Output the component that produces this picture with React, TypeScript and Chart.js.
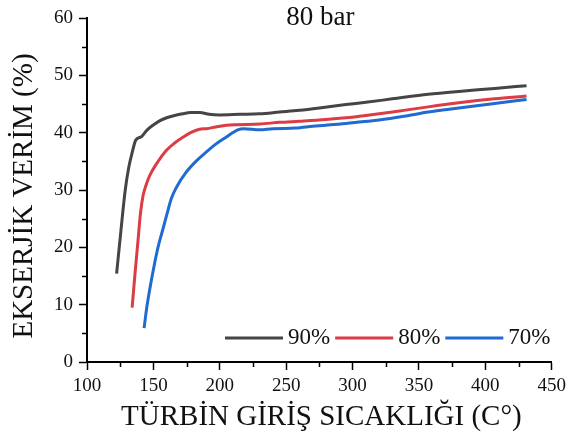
import React, { useEffect, useRef } from "react";
import { Chart, registerables } from "chart.js";

Chart.register(...registerables);

const titleText = "80 bar";
const xTitle = "TÜRBİN GİRİŞ SICAKLIĞI (C°)";
const yTitle = "EKSERJİK VERİM (%)";
const seriesLabels = ["90%", "80%", "70%"];
const seriesColors = ["#454545", "#dc3c44", "#1f6bd1"];

const x90 = [122.3, 125.5, 128.8, 131.5, 134, 136.7, 141, 145, 149.7, 155, 160, 166, 172, 178, 185, 192, 200, 215, 230, 245, 260, 275, 295, 310, 330, 357, 380, 407, 431];
const y90 = [15.4, 22.8, 30, 34, 36.5, 38.7, 39.3, 40.4, 41.3, 42.1, 42.6, 43.0, 43.3, 43.5, 43.5, 43.2, 43.1, 43.2, 43.3, 43.6, 43.9, 44.3, 44.9, 45.3, 45.9, 46.7, 47.2, 47.7, 48.2];

const x80 = [134, 136, 138.5, 140.2, 142.2, 144.7, 147.2, 153, 159.7, 166, 172.2, 178, 184.7, 190, 197, 205, 212, 230, 245, 260, 280, 295, 310, 330, 357, 380, 407, 431];
const y80 = [9.5, 15, 21.4, 25.8, 29, 31, 32.5, 34.8, 36.9, 38.2, 39.2, 40, 40.6, 40.7, 41.0, 41.3, 41.4, 41.5, 41.8, 42.0, 42.3, 42.6, 43.0, 43.6, 44.5, 45.2, 45.9, 46.4];

const x70 = [143, 145, 147.2, 151, 154, 157.2, 160, 163.5, 167.2, 174.7, 182, 189.7, 197, 204.7, 213.5, 218, 230, 240, 257, 270, 295, 307, 320, 340, 357, 380, 407, 431];
const y70 = [5.9, 9.5, 12.6, 17.3, 20.5, 23.2, 25.6, 28.5, 30.4, 33.1, 35, 36.6, 38, 39.2, 40.5, 40.7, 40.5, 40.7, 40.8, 41.1, 41.6, 41.9, 42.2, 42.9, 43.6, 44.3, 45.1, 45.8];

const xMin = 100;
const xMax = 450;
const xStep = 50;
const xMinorStep = 25;
const yMin = 0;
const yMax = 60;
const yStep = 10;
const yMinorStep = 5;

const FONT = "'Liberation Serif', 'Times New Roman', serif";
const TEXT = "#111111";

function pts(xs: number[], ys: number[]) {
  return xs.map((x, i) => ({ x, y: ys[i] }));
}

const overlayPlugin = {
  id: "overlay",
  afterDraw(chart: any) {
    const { ctx, chartArea } = chart;
    const xs = chart.scales.x;
    const ys = chart.scales.y;
    ctx.save();
    // minor ticks
    ctx.strokeStyle = "#000";
    ctx.lineWidth = 1.5;
    ctx.beginPath();
    for (let v = xMin + xMinorStep; v < xMax; v += xStep) {
      const px = Math.round(xs.getPixelForValue(v)) + 0.5;
      ctx.moveTo(px, chartArea.bottom);
      ctx.lineTo(px, chartArea.bottom + 5);
    }
    for (let v = yMin + yMinorStep; v < yMax; v += yStep) {
      const py = Math.round(ys.getPixelForValue(v)) + 0.5;
      ctx.moveTo(chartArea.left, py);
      ctx.lineTo(chartArea.left - 5, py);
    }
    ctx.stroke();

    // chart title
    ctx.fillStyle = TEXT;
    ctx.font = `27px ${FONT}`;
    ctx.textAlign = "center";
    ctx.textBaseline = "middle";
    ctx.fillText(titleText, (chartArea.left + chartArea.right) / 2 + 1, 18);

    // axis titles
    ctx.font = `29px ${FONT}`;
    ctx.fillText(xTitle, (chartArea.left + chartArea.right) / 2 + 2, 417);
    ctx.save();
    ctx.translate(24, 196);
    ctx.rotate(-Math.PI / 2);
    ctx.fillText(yTitle, 0, 0);
    ctx.restore();

    // legend
    ctx.font = `23px ${FONT}`;
    ctx.textAlign = "left";
    const ly = 338;
    let lx = 225;
    chart.data.datasets.forEach((ds: any) => {
      ctx.strokeStyle = ds.borderColor;
      ctx.lineWidth = 3;
      ctx.beginPath();
      ctx.moveTo(lx, ly);
      ctx.lineTo(lx + 58, ly);
      ctx.stroke();
      ctx.fillStyle = TEXT;
      ctx.fillText(ds.label, lx + 63, ly);
      lx += 63 + ctx.measureText(ds.label).width + 5;
    });
    ctx.restore();
  },
};

export default function App() {
  const ref = useRef<HTMLCanvasElement | null>(null);
  useEffect(() => {
    if (!ref.current) return;
    const xsArr = [x90, x80, x70];
    const ysArr = [y90, y80, y70];
    const chart = new Chart(ref.current, {
      type: "line",
      data: {
        datasets: seriesLabels.map((label, i) => ({
          label,
          data: pts(xsArr[i], ysArr[i]),
          borderColor: seriesColors[i],
          backgroundColor: seriesColors[i],
          borderWidth: 3,
          pointRadius: 0,
          cubicInterpolationMode: "monotone" as const,
          fill: false,
        })),
      },
      options: {
        responsive: false,
        animation: false,
        layout: { padding: { top: 18, right: 17, left: 0, bottom: 0 } },
        plugins: {
          legend: { display: false },
          title: { display: false },
          tooltip: { enabled: false },
        },
        scales: {
          x: {
            type: "linear",
            min: xMin,
            max: xMax,
            afterFit: (s: any) => {
              s.height = 76;
            },
            ticks: {
              stepSize: xStep,
              color: TEXT,
              font: { family: FONT, size: 19 },
              padding: 5,
              maxRotation: 0,
            },
            grid: {
              drawOnChartArea: false,
              drawTicks: true,
              tickLength: 8,
              tickColor: "#000",
              tickWidth: 1.5,
            },
            border: { display: true, color: "#000", width: 2 },
          },
          y: {
            type: "linear",
            min: yMin,
            max: yMax,
            afterFit: (s: any) => {
              s.width = 87;
            },
            ticks: {
              stepSize: yStep,
              color: TEXT,
              font: { family: FONT, size: 19 },
              padding: 6,
            },
            grid: {
              drawOnChartArea: false,
              drawTicks: true,
              tickLength: 8,
              tickColor: "#000",
              tickWidth: 1.5,
            },
            border: { display: true, color: "#000", width: 2 },
          },
        },
      },
      plugins: [overlayPlugin],
    });
    return () => chart.destroy();
  }, []);
  return (
    <div style={{ position: "fixed", left: 0, top: 0, width: 571, height: 438, background: "#fff" }}>
      <canvas ref={ref} width={571} height={438} style={{ display: "block" }} />
    </div>
  );
}
